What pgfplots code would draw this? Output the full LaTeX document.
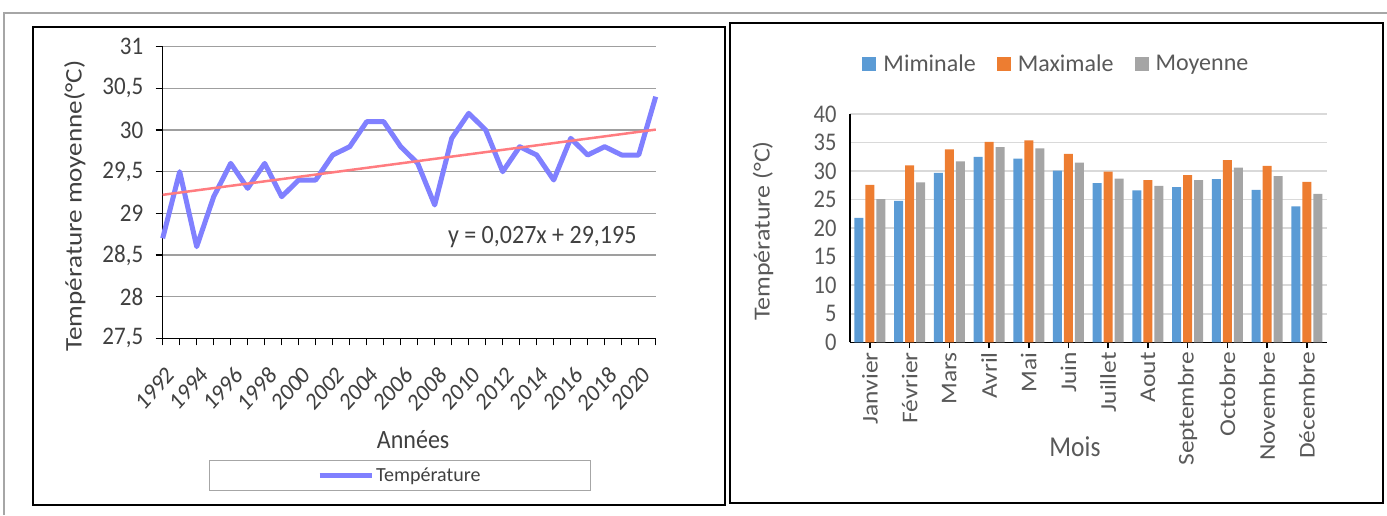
\documentclass[border=0pt]{standalone}
\usepackage{pgfplots}
\pgfplotsset{compat=1.18}
\usepackage{fontspec}
\setmainfont{Carlito}

\definecolor{tline}{HTML}{8080FF}
\definecolor{trend}{HTML}{FF7C80}
\definecolor{cmin}{HTML}{5B9BD5}
\definecolor{cmax}{HTML}{ED7D31}
\definecolor{cmoy}{HTML}{A5A5A5}
\definecolor{txt}{HTML}{595959}
\definecolor{txtl}{HTML}{404040}

\begin{document}
\begin{tikzpicture}[x=1pt,y=-1pt]
\useasboundingbox (0,0) rectangle (1387,515);
% cadre gris et panneaux
\draw[gray!70, line width=1.5pt] (4,515) -- (4,13) -- (1387,13);
\draw[black, line width=2pt] (33,27) rectangle (725,505);
\draw[black, line width=2pt] (730,23) rectangle (1383,503);
\coordinate (L) at (162.7,338.3);
\coordinate (R) at (850,342.3);

% --- panneau gauche : temperature annuelle
\begin{axis}[
    at={(L)}, anchor=south west,
    x=17pt, y=83.314pt,
    xmin=1992, xmax=2021, ymin=27.5, ymax=31,
    axis x line*=bottom, axis y line*=left,
    axis line style={-, black, line width=1.5pt},
    /pgf/number format/assume math mode=true,
    ytick={27.5,28,...,31},
    yticklabels={{27,5},{28},{28,5},{29},{29,5},{30},{30,5},{31}},
    xtick={1992,1994,...,2020},
    xticklabels={1992,1994,1996,1998,2000,2002,2004,2006,2008,2010,2012,2014,2016,2018,2020},
    minor xtick={1993,1995,...,2021},
    tick align=outside,
    major tick length=7pt, minor tick length=7pt,
    tick style={black, line width=1.5pt},
    ymajorgrids, grid style={gray!75, line width=1.2pt},
    ticklabel style={font=\fontsize{23}{26}\selectfont, text=txtl},
    yticklabel style={xshift=-9pt, yscale=1.1},
    xticklabel style={xshift=3pt, yshift=-14pt, yscale=1.12, rotate=45, anchor=north east, font=\fontsize{22}{24}\selectfont},
    clip=false,
    legend style={at={(0.481,-0.4705)}, anchor=center, draw=gray!70, line width=1pt,
        inner xsep=108pt, inner ysep=5pt, font=\fontsize{20}{24}\selectfont, text=txtl},
    legend image code/.code={\draw[#1] (0pt,0pt) -- (52pt,0pt);},
]
\addplot[tline, line width=5pt, line join=round] coordinates {
(1992,28.7) (1993,29.5) (1994,28.6) (1995,29.2) (1996,29.6) (1997,29.3)
(1998,29.6) (1999,29.2) (2000,29.4) (2001,29.4) (2002,29.7) (2003,29.8)
(2004,30.1) (2005,30.1) (2006,29.8) (2007,29.6) (2008,29.1) (2009,29.9)
(2010,30.2) (2011,30.0) (2012,29.5) (2013,29.8) (2014,29.7) (2015,29.4)
(2016,29.9) (2017,29.7) (2018,29.8) (2019,29.7) (2020,29.7) (2021,30.4)
};
\addlegendentry{Température}
\addplot[trend, line width=2.5pt, forget plot] coordinates {(1992,29.222) (2021,30.005)};
\node[anchor=east, text=txtl, yscale=1.1, font=\fontsize{24}{26}\selectfont] at (rel axis cs:0.968,0.347) {y = 0,027x + 29,195};
\node[yscale=1.14, rotate=90, text=txtl, font=\fontsize{23.8}{27}\selectfont] at (rel axis cs:-0.178,0.454) {Température moyenne(°C)};
\node[yscale=1.1, text=txtl, font=\fontsize{24}{26}\selectfont] at (rel axis cs:0.508,-0.349) {Années};
\end{axis}

% --- panneau droit : temperatures mensuelles
\begin{axis}[
    at={(R)}, anchor=south west,
    x=39.72pt, y=5.7075pt,
    xmin=-0.5, xmax=11.5, ymin=0, ymax=40,
    axis x line*=bottom, axis y line*=left,
    axis line style={-, black, line width=1.5pt},
    /pgf/number format/assume math mode=true,
    ytick={0,5,...,40},
    xtick={0,...,11},
    xticklabels={Janvier,Février,Mars,Avril,Mai,Juin,Juillet,Aout,Septembre,Octobre,Novembre,Décembre},
    xtick align=outside, major tick length=6pt,
    xtick style={black, line width=1.5pt},
    ytick style={draw=none},
    ymajorgrids, grid style={gray!30, line width=1.5pt},
    ticklabel style={font=\fontsize{22.5}{25}\selectfont, text=txt},
    yticklabel style={yscale=1.13, xshift=-10pt},
    xticklabel style={yscale=1.13, rotate=90, anchor=east},
    ybar, bar width=9pt, bar shift auto,
    clip=false,
    legend columns=3,
    legend style={at={(0.433,1.221)}, anchor=center, draw=none,
        font=\fontsize{24}{27}\selectfont, text=txt,
        /tikz/every even column/.append style={column sep=19pt}},
    legend image code/.code={\fill[#1] (0pt,-7pt) rectangle (14pt,7pt); \path (19pt,0pt);},
]
\addplot[draw=none, fill=cmin] coordinates {
(0,21.8) (1,24.8) (2,29.7) (3,32.5) (4,32.2) (5,30.1)
(6,27.9) (7,26.6) (8,27.2) (9,28.6) (10,26.7) (11,23.8)};
\addlegendentry{Miminale}
\addplot[draw=none, fill=cmax] coordinates {
(0,27.6) (1,31.0) (2,33.8) (3,35.1) (4,35.4) (5,33.0)
(6,29.9) (7,28.4) (8,29.3) (9,31.9) (10,30.9) (11,28.1)};
\addlegendentry{Maximale}
\addplot[draw=none, fill=cmoy] coordinates {
(0,25.1) (1,28.0) (2,31.7) (3,34.2) (4,34.0) (5,31.5)
(6,28.7) (7,27.4) (8,28.4) (9,30.6) (10,29.1) (11,26.0)};
\addlegendentry{Moyenne}
\node[yscale=1.13, rotate=90, text=txt, font=\fontsize{23}{26}\selectfont] at (rel axis cs:-0.1825,0.4875) {Température (°C)};
\node[yscale=1.13, text=txt, font=\fontsize{25.5}{28}\selectfont] at (rel axis cs:0.472,-0.457) {Mois};
\end{axis}
\end{tikzpicture}
\end{document}
